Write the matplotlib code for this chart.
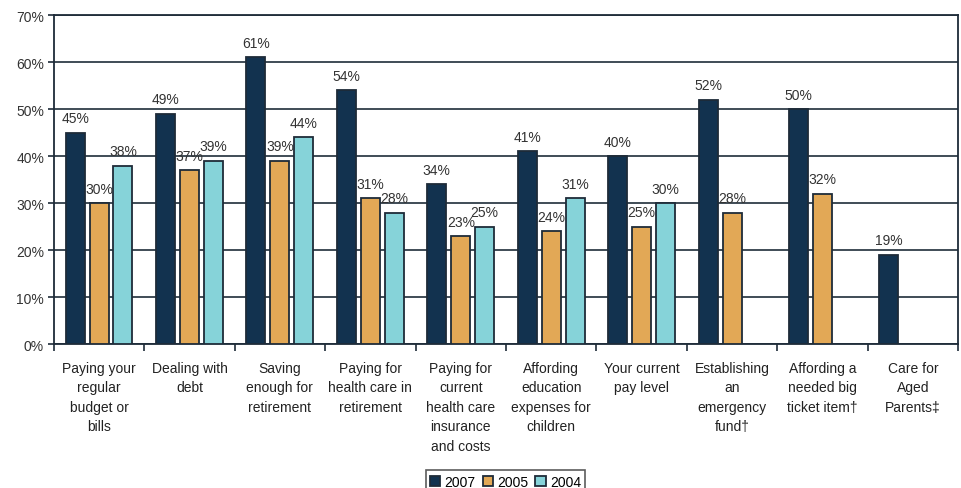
import matplotlib.pyplot as plt
import numpy as np

plt.rcParams['font.family'] = ['Liberation Sans', 'DejaVu Sans']

categories = [
    "Paying your\nregular\nbudget or\nbills",
    "Dealing with\ndebt",
    "Saving\nenough for\nretirement",
    "Paying for\nhealth care in\nretirement",
    "Paying for\ncurrent\nhealth care\ninsurance\nand costs",
    "Affording\neducation\nexpenses for\nchildren",
    "Your current\npay level",
    "Establishing\nan\nemergency\nfund\u2020",
    "Affording a\nneeded big\nticket item\u2020",
    "Care for\nAged\nParents\u2021",
]
years = ["2007", "2005", "2004"]
vals_2007 = [45, 49, 61, 54, 34, 41, 40, 52, 50, 19]
vals_2005 = [30, 37, 39, 31, 23, 24, 25, 28, 32, None]
vals_2004 = [38, 39, 44, 28, 25, 31, 30, None, None, None]

colors = ["#12324f", "#e2a856", "#86d3d9"]
edge = "#1e2b38"

fig, ax = plt.subplots(figsize=(9.61, 4.89), dpi=100)
fig.subplots_adjust(left=0.056, right=0.997, top=0.967, bottom=0.294)

x = np.arange(len(categories))
width = 0.21
step = 0.265

for i, (year, vals, col) in enumerate(zip(years, [vals_2007, vals_2005, vals_2004], colors)):
    xs = [xi + (i - 1) * step for xi, v in zip(x, vals) if v is not None]
    vs = [v for v in vals if v is not None]
    ax.bar(xs, vs, width, color=col, edgecolor=edge, linewidth=1.3, label=year, zorder=3)
    for xi, v in zip(xs, vs):
        ax.text(xi, v + 1.6, f"{v}%", ha="center", va="bottom", fontsize=10, color="#333333", zorder=4)

ax.set_xlim(-0.5, len(categories) - 0.5)
ax.set_ylim(0, 70)
ax.set_yticks(range(0, 71, 10))
ax.set_yticklabels([f"{t}%" for t in range(0, 71, 10)], fontsize=10, color="#333333")
ax.yaxis.grid(True, color="#1f2d3a", linewidth=1.2, zorder=0)
ax.set_axisbelow(True)

# category labels sit between the boundary ticks
ax.set_xticks(x)
ax.set_xticklabels(categories, fontsize=10, color="#222222", linespacing=1.5, va="top")
ax.tick_params(axis="x", length=0, pad=12)
ax.set_xticks(np.arange(-0.5, len(categories)), minor=True)
ax.tick_params(axis="x", which="minor", length=5, width=1.2, color=edge)
ax.tick_params(axis="y", length=4, width=1.2, color=edge, pad=3)

for s in ax.spines.values():
    s.set_color(edge)
    s.set_linewidth(1.3)

leg = fig.legend(loc="lower center", ncol=3, bbox_to_anchor=(0.526, -0.024), frameon=True,
                 fancybox=False, edgecolor="#333333", fontsize=10, handlelength=0.75,
                 handleheight=0.75, handletextpad=0.3, columnspacing=0.5, borderpad=0.3)
leg.get_frame().set_linewidth(1.2)

fig.savefig("out.png", dpi=100)
